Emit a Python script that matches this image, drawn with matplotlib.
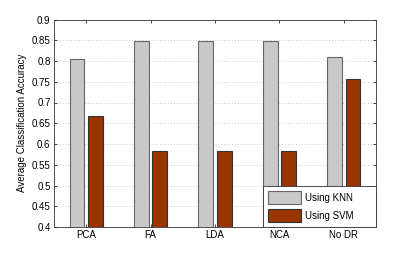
import matplotlib
matplotlib.use("Agg")
import matplotlib.pyplot as plt
import numpy as np

categories = ["PCA", "FA", "LDA", "NCA", "No DR"]
knn = [0.804, 0.849, 0.849, 0.849, 0.809]
svm = [0.668, 0.584, 0.584, 0.584, 0.756]
yticks = [0.4, 0.45, 0.5, 0.55, 0.6, 0.65, 0.7, 0.75, 0.8, 0.85, 0.9]

plt.rcParams['font.family'] = ['Liberation Sans', 'DejaVu Sans']
fig = plt.figure(figsize=(4.15, 2.56), dpi=100)
ax = fig.add_axes([54/415, 1-227/256, (376-54)/415, (227-19.5)/256])

x = np.arange(1, len(categories)+1)
w = 0.23
off = 0.143
ax.bar(x-off, knn, w, color='#c8c8c8', edgecolor='#666666', linewidth=0.8, label='Using KNN', zorder=3)
ax.bar(x+off, svm, w, color='#993300', edgecolor='#333333', linewidth=0.8, label='Using SVM', zorder=3)

ax.set_xlim(0.5, 5.5)
ax.set_ylim(0.4, 0.9)
ax.set_yticks(yticks)
ax.set_yticklabels([f"{t:g}" for t in yticks])
ax.set_xticks(x)
ax.set_xticklabels(categories)
ax.tick_params(labelsize=7, direction='in', length=2.5, width=0.5, top=True, right=True, pad=2.5)
ax.yaxis.grid(True, linestyle=(0, (1, 3)), color='#999999', linewidth=0.5)
ax.set_axisbelow(True)
for s in ax.spines.values():
    s.set_linewidth(0.6)
    s.set_color('#333333')
ax.set_ylabel("Average Classification Accuracy", fontsize=7, labelpad=3)

x0 = (262.7-54)/322
leg = ax.legend(loc='lower left', bbox_to_anchor=(x0, 0, 1-x0, 43/207.5), mode='expand',
                fontsize=7, frameon=True, fancybox=False,
                handlelength=3.4, handleheight=1.6, borderpad=0.55, labelspacing=0.55,
                handletextpad=0.4, borderaxespad=0)
leg.get_frame().set_edgecolor('#333333')
leg.get_frame().set_linewidth(0.6)
leg.get_frame().set_alpha(1)

fig.savefig("out.png", dpi=100)
